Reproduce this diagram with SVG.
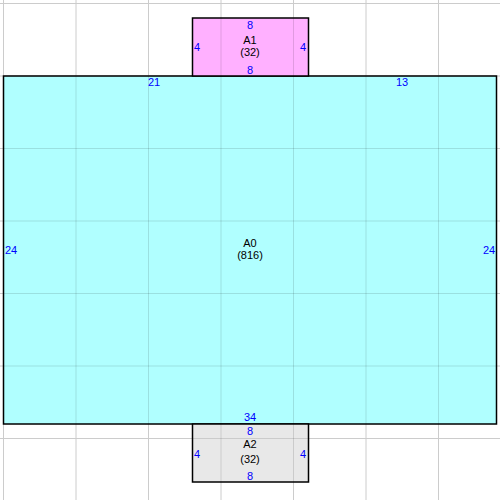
<svg xmlns="http://www.w3.org/2000/svg" width="500" height="500" viewBox="0 0 500 500">
<style>
.room{stroke:#000;stroke-width:1.5}
.n{font-family:"Liberation Sans",Arial,sans-serif;font-size:11px;fill:#0000ff;text-anchor:middle}
.t{font-family:"Liberation Sans",Arial,sans-serif;font-size:11px;fill:#000;text-anchor:middle}
</style>
<defs>
<g id="gridlines">
<line x1="3.5" y1="0" x2="3.5" y2="500"/>
<line x1="76" y1="0" x2="76" y2="500"/>
<line x1="148.5" y1="0" x2="148.5" y2="500"/>
<line x1="221" y1="0" x2="221" y2="500"/>
<line x1="293.5" y1="0" x2="293.5" y2="500"/>
<line x1="366" y1="0" x2="366" y2="500"/>
<line x1="438.5" y1="0" x2="438.5" y2="500"/>
<line x1="0" y1="3.5" x2="500" y2="3.5"/>
<line x1="0" y1="76" x2="500" y2="76"/>
<line x1="0" y1="148.5" x2="500" y2="148.5"/>
<line x1="0" y1="221" x2="500" y2="221"/>
<line x1="0" y1="293.5" x2="500" y2="293.5"/>
<line x1="0" y1="366" x2="500" y2="366"/>
<line x1="0" y1="438.5" x2="500" y2="438.5"/>
</g>
<clipPath id="rooms">
<rect x="3.5" y="76" width="493" height="348"/>
<rect x="192.5" y="18" width="116" height="58"/>
<rect x="192.5" y="424" width="116" height="58"/>
</clipPath>
</defs>
<rect width="500" height="500" fill="#fff"/>
<use href="#gridlines" stroke="#cccccc" stroke-width="1"/>
<g id="A0">
<rect class="room" x="3.5" y="76" width="493" height="348" fill="#b0ffff"/>
</g>
<g id="A1">
<rect class="room" x="192.5" y="18" width="116" height="58" fill="#ffb0ff"/>
</g>
<g id="A2">
<rect class="room" x="192.5" y="424" width="116" height="58" fill="#e8e8e8"/>
</g>
<use href="#gridlines" stroke="#000" stroke-opacity="0.12" stroke-width="1" clip-path="url(#rooms)"/>
<g id="labels-A0">
<text class="n" x="154" y="86">21</text>
<text class="n" x="402" y="86">13</text>
<text class="n" x="11" y="254">24</text>
<text class="n" x="489" y="254">24</text>
<text class="n" x="250" y="421">34</text>
<text class="t" x="250" y="247">A0</text>
<text class="t" x="250" y="259">(816)</text>
</g>
<g id="labels-A1">
<text class="n" x="250" y="29">8</text>
<text class="n" x="250" y="74">8</text>
<text class="n" x="197" y="51">4</text>
<text class="n" x="303" y="51">4</text>
<text class="t" x="250" y="44">A1</text>
<text class="t" x="250" y="56">(32)</text>
</g>
<g id="labels-A2">
<text class="n" x="250" y="435">8</text>
<text class="n" x="250" y="480">8</text>
<text class="n" x="197" y="458">4</text>
<text class="n" x="303" y="458">4</text>
<text class="t" x="250" y="448">A2</text>
<text class="t" x="250" y="463">(32)</text>
</g>
</svg>
